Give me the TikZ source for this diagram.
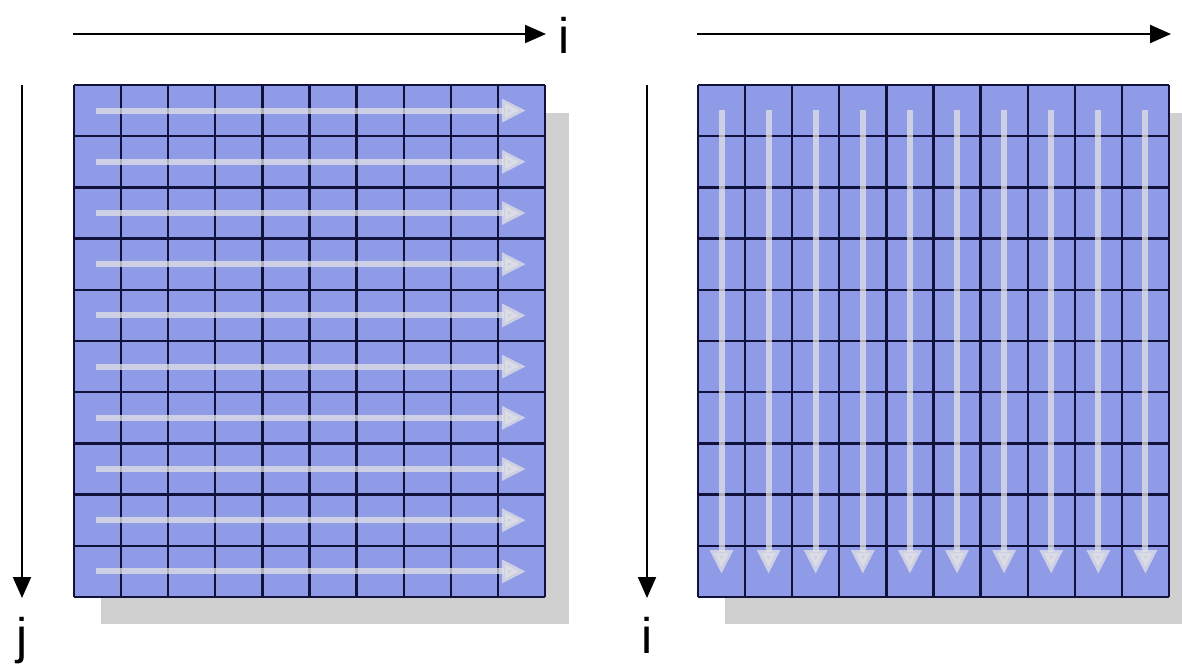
\documentclass[tikz,border=0pt]{standalone}
\usepackage{fontspec}
\setmainfont{Liberation Sans}
\usetikzlibrary{arrows.meta}

\definecolor{cellblue}{RGB}{143,155,230}
\definecolor{gridnavy}{RGB}{16,18,60}
\definecolor{shadowgray}{RGB}{208,208,208}
\definecolor{sweepgray}{RGB}{226,226,228}

\tikzset{
  axis/.style={line width=2pt, -{Triangle[width=18pt, length=21pt]}},
  sweep/.style={line width=6pt, sweepgray, opacity=0.75,
    -{Triangle[width=22pt, length=24pt]}},
  gridline/.style={line width=2.3pt, gridnavy},
  axislabel/.style={font=\fontsize{50}{50}\selectfont, inner sep=0pt}
}

\begin{document}
\begin{tikzpicture}[x=1pt, y=-1pt]

  \useasboundingbox (0,0) rectangle (1182,669);

  % -- Shadows --
  \fill[shadowgray] (101,113) rectangle (569,624);
  \fill[shadowgray] (725,113) rectangle (1182,624);

  % -- Left grid: row by row --
  \fill[cellblue] (74,85) rectangle (545,597);
  \foreach \c in {0,...,10}
    \draw[gridline] ({74+47.1*\c},85) -- ({74+47.1*\c},597);
  \foreach \r in {0,...,10}
    \draw[gridline] (74,{85+51.2*\r}) -- (545,{85+51.2*\r});
  \foreach \r in {0,...,9}
    \draw[sweep] (96,{110.6+51.2*\r}) -- (526,{110.6+51.2*\r});

  % -- Right grid: column by column --
  \fill[cellblue] (698,85) rectangle (1169,597);
  \foreach \c in {0,...,10}
    \draw[gridline] ({698+47.1*\c},85) -- ({698+47.1*\c},597);
  \foreach \r in {0,...,10}
    \draw[gridline] (698,{85+51.2*\r}) -- (1169,{85+51.2*\r});
  \foreach \c in {0,...,9}
    \draw[sweep] ({721.5+47.1*\c},110) -- ({721.5+47.1*\c},574);

  % -- Left axes --
  \coordinate (li0) at (73,34);
  \coordinate (li1) at (546,34);
  \coordinate (lj0) at (22,85);
  \coordinate (lj1) at (22,598);
  \draw[axis] (li0) -- (li1);
  \draw[axis] (lj0) -- (lj1);
  \node[axislabel, anchor=base] (ilabel) at (564,53) {i};
  \node[axislabel, anchor=base] (jlabel) at (22,653) {j};

  % -- Right axes --
  \coordinate (ri0) at (697,34);
  \coordinate (ri1) at (1171,34);
  \coordinate (rk0) at (647,85);
  \coordinate (rk1) at (647,598);
  \draw[axis] (ri0) -- (ri1);
  \draw[axis] (rk0) -- (rk1);
  \node[axislabel, anchor=base] (ilabel2) at (647,653) {i};

\end{tikzpicture}
\end{document}
